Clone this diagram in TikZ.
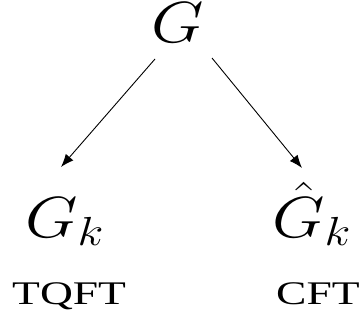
\RequirePackage{fix-cm}
\documentclass[tikz,border=0pt]{standalone}
\usepackage{fontspec}
\newfontfamily\lblfont[FakeStretch=1.38]{Liberation Serif}
\usetikzlibrary{arrows.meta}
\newcommand{\mwide}[1]{\scalebox{1.17}[1]{#1}}
\begin{document}
\begin{tikzpicture}[x=1pt,y=-1pt,
  mathlbl/.style={inner sep=0pt,font=\fontsize{58}{60}\selectfont},
  txtlbl/.style={inner sep=0pt,font=\lblfont\fontsize{33}{35}\selectfont},
  arr/.style={line width=0.9pt,-{Latex[length=13pt,width=10pt]}}]
\useasboundingbox (0,0) rectangle (361,331);
\node[mathlbl,anchor=base] (G) at (178,43) {\mwide{$G$}};
\node[mathlbl,anchor=base west] (Gk) at (25,237) {\mwide{$G_k$}};
\node[mathlbl,anchor=base west] (Hk) at (272,237) {\mwide{$\hat{G}_k$}};
\node[txtlbl,anchor=base west] (T) at (12,304) {TQFT};
\node[txtlbl,anchor=base west] (C) at (276,304) {CFT};
\coordinate (a1) at (155,59);
\coordinate (a2) at (61,167);
\coordinate (b1) at (212,58);
\coordinate (b2) at (302,168);
\draw[arr] (a1) -- (a2);
\draw[arr] (b1) -- (b2);
\end{tikzpicture}
\end{document}
